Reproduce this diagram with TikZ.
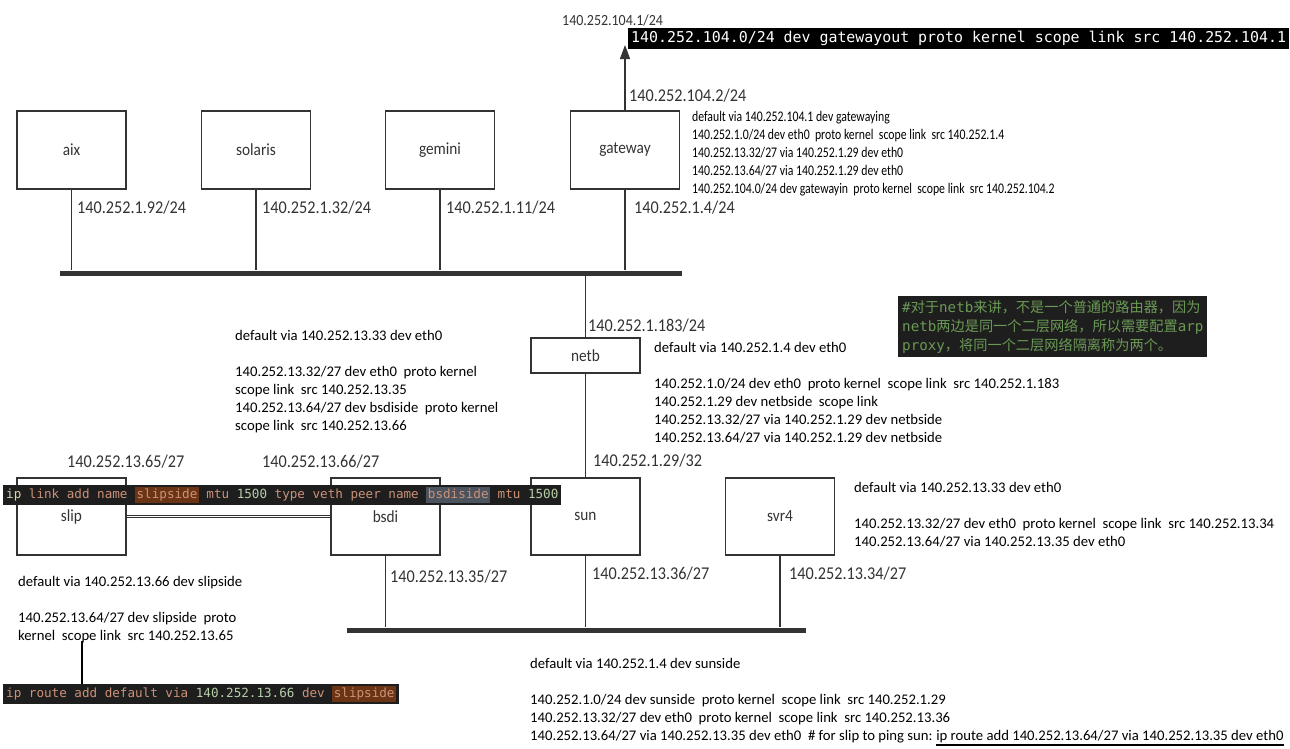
\documentclass[tikz,border=0pt]{standalone}
\usepackage{fontspec}
\setmainfont{Carlito}
\newfontfamily\mono{DejaVu Sans Mono}
\newfontfamily\narrowf[FakeStretch=0.8]{Carlito}
\newfontfamily\labf[FakeStretch=0.9]{Carlito}
\newfontfamily\cjk{Noto Sans CJK SC}
\usetikzlibrary{arrows.meta}
\definecolor{boxc}{HTML}{333333}
\definecolor{labc}{HTML}{333333}
\definecolor{codebg}{HTML}{1E1E1E}
\definecolor{codeor}{HTML}{CE9178}
\definecolor{codeip}{HTML}{D7D7AF}
\definecolor{codenum}{HTML}{B5CEA8}
\definecolor{hlbrown}{HTML}{6A3415}
\definecolor{hlgray}{HTML}{4A535E}
\definecolor{cgreen}{HTML}{6A9955}
\newcommand\hlx[2]{\begingroup\setlength\fboxsep{1.5pt}\colorbox{#1}{\vphantom{Ag}#2}\endgroup}
\begin{document}
\begin{tikzpicture}[x=1pt,y=-1pt,
  host/.style={draw=boxc, line width=1.5pt, fill=white, minimum width=109pt, minimum height=78pt, inner sep=0pt, text=labc, font=\labf\fontsize{17}{19}\selectfont},
  bus/.style={fill=boxc, inner sep=0pt, minimum height=5pt},
  wire/.style={draw=boxc, line width=1.5pt},
  iplab/.style={anchor=west, inner sep=0pt, text=labc, font=\labf\fontsize{18}{20}\selectfont},
  route/.style={anchor=north west, inner sep=0pt, align=left, text=black, font=\fontsize{14.7}{18}\selectfont},
  nroute/.style={route, font=\narrowf\fontsize{14.7}{18}\selectfont},
  codebox/.style={fill=codebg, inner xsep=3pt, inner ysep=2pt, anchor=north west, text=codeor, font=\mono\fontsize{12.6}{15}\selectfont}
]
\useasboundingbox (0,0) rectangle (1290,748);
\fill[white] (0,0) rectangle (1290,748);

% top row hosts
\node[host] (aix) at (71.5,150) {aix};
\node[host] (solaris) at (256,150) {solaris};
\node[host] (gemini) at (440,150) {gemini};
\node[host] (gateway) at (625,150) {gateway};
\node[bus, minimum width=622pt] (bus1) at (371,273) {};
\foreach \h in {aix,solaris,gemini,gateway}
  \draw[wire] (\h.south) -- (\h.south |- bus1.north);

\node[iplab] (l1) at (77,208) {140.252.1.92/24};
\node[iplab] (l2) at (262,208) {140.252.1.32/24};
\node[iplab] (l3) at (446,208) {140.252.1.11/24};
\node[iplab] (l4) at (634,208) {140.252.1.4/24};

% gateway uplink
\coordinate (gwout) at (625,45);
\draw[wire,-{Triangle[length=14pt,width=10pt]}] (gateway.north) -- (gwout);
\node[iplab] (l5) at (629,96) {140.252.104.2/24};
\node[iplab, font=\labf\fontsize{15.5}{17}\selectfont] (l6) at (562,20) {140.252.104.1/24};
\node[fill=black, text=white, inner xsep=3pt, inner ysep=3pt, anchor=north west, font=\mono\fontsize{14.9}{17}\selectfont] (gwcmd) at (628,28) {140.252.104.0/24 dev gatewayout proto kernel scope link src 140.252.104.1};

\node[nroute] (gwtxt) at (692,111) {default via 140.252.104.1 dev gatewaying\\
140.252.1.0/24 dev eth0\ \ proto kernel\ \ scope link\ \ src 140.252.1.4\\
140.252.13.32/27 via 140.252.1.29 dev eth0\\
140.252.13.64/27 via 140.252.1.29 dev eth0\\
140.252.104.0/24 dev gatewayin\ \ proto kernel\ \ scope link\ \ src 140.252.104.2};

% netb
\node[host, minimum height=35pt] (netb) at (585.5,355.5) {netb};
\draw[wire] (netb.north) -- (netb.north |- bus1.south);
\node[iplab] (l7) at (588,326) {140.252.1.183/24};
\node[route] (netbtxt) at (654,342) {default via 140.252.1.4 dev eth0\\[18pt]
140.252.1.0/24 dev eth0\ \ proto kernel\ \ scope link\ \ src 140.252.1.183\\
140.252.1.29 dev netbside\ \ scope link\\
140.252.13.32/27 via 140.252.1.29 dev netbside\\
140.252.13.64/27 via 140.252.1.29 dev netbside};

\node[fill=codebg, text=cgreen, anchor=north west, inner xsep=4pt, inner ysep=4pt, align=left, font=\fontsize{14.2}{19}\selectfont] (note) at (898,296) {{\mono\#}{\cjk 对于}{\mono netb}{\cjk 来讲，不是一个普通的路由器，因为}\\
{\mono netb}{\cjk 两边是同一个二层网络，所以需要配置}{\mono arp}\\
{\mono proxy}{\cjk ，将同一个二层网络隔离称为两个。}};

\node[route] (bsditxt) at (235,330) {default via 140.252.13.33 dev eth0\\[18pt]
140.252.13.32/27 dev eth0\ \ proto kernel\\
scope link\ \ src 140.252.13.35\\
140.252.13.64/27 dev bsdiside\ \ proto kernel\\
scope link\ \ src 140.252.13.66};

% bottom row hosts
\node[host, minimum height=77pt] (slip) at (71.5,516.5) {slip};
\node[host, minimum height=77pt] (bsdi) at (385.5,516.5) {bsdi};
\node[host, minimum height=77pt] (sun) at (585.5,516.5) {sun};
\node[host, minimum height=77pt] (svr4) at (780,516.5) {svr4};
\draw[wire] (netb.south) -- (sun.north);
\draw[boxc, double, double distance=1.6pt, line width=0.9pt] (slip.east) -- (bsdi.west);
\node[bus, minimum width=459pt] (bus2) at (576.5,630) {};
\foreach \h in {bsdi,sun,svr4}
  \draw[wire] (\h.south) -- (\h.south |- bus2.north);

\node[iplab] (l8) at (593,461) {140.252.1.29/32};
\node[iplab] (l9) at (67,462) {140.252.13.65/27};
\node[iplab] (l10) at (262,462) {140.252.13.66/27};
\node[iplab] (l11) at (390,577) {140.252.13.35/27};
\node[iplab] (l12) at (592,574) {140.252.13.36/27};
\node[iplab] (l13) at (789,574) {140.252.13.34/27};

\node[codebox] (vethcmd) at (3,485) {{\color{codeip}ip} link add name \hlx{hlbrown}{slipside} mtu {\color{codenum}1500} type veth peer name \hlx{hlgray}{bsdiside} mtu {\color{codenum}1500}};

\node[route] (svr4txt) at (854,482) {default via 140.252.13.33 dev eth0\\[18pt]
140.252.13.32/27 dev eth0\ \ proto kernel\ \ scope link\ \ src 140.252.13.34\\
140.252.13.64/27 via 140.252.13.35 dev eth0};

\node[route] (sliptxt) at (18,576) {default via 140.252.13.66 dev slipside\\[18pt]
140.252.13.64/27 dev slipside\ \ proto\\
kernel\ \ scope link\ \ src 140.252.13.65};

\node[codebox] (routecmd) at (3,684) {ip route add default via {\color{codenum}140.252.13.66} dev \hlx{hlbrown}{slipside}};
\coordinate (slipref) at (82,641);
\draw[line width=2.5pt] (slipref) -- (slipref |- routecmd.north);

\node[route] (suntxt) at (530,658) {default via 140.252.1.4 dev sunside\\[18pt]
140.252.1.0/24 dev sunside\ \ proto kernel\ \ scope link\ \ src 140.252.1.29\\
140.252.13.32/27 dev eth0\ \ proto kernel\ \ scope link\ \ src 140.252.13.36};
\node[route, anchor=north west] (sunlast) at (530,730) {140.252.13.64/27 via 140.252.13.35 dev eth0\ \ \# for slip to ping sun:\ };
\node[route, anchor=base west] (suncmd) at (sunlast.base east) {ip route add 140.252.13.64/27 via 140.252.13.35 dev eth0};
\draw[line width=2.5pt] ([yshift=-2pt]suncmd.south west) -- ([yshift=-2pt]suncmd.south east);
\end{tikzpicture}
\end{document}
